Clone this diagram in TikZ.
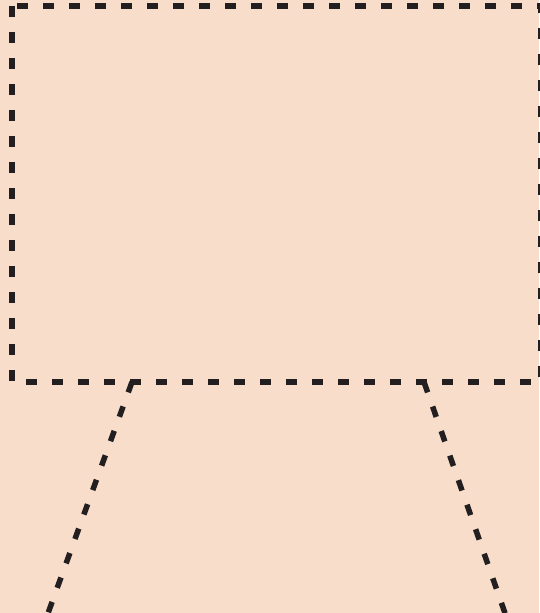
\documentclass[tikz,border=0pt]{standalone}
\usepackage{tikz}
\usetikzlibrary{calc}
\definecolor{paper}{HTML}{F7DDCA}
\definecolor{ink}{HTML}{231F20}

\begin{document}
\begin{tikzpicture}[
            x=1pt, y=-1pt,
            outline/.style={
                draw=ink, line width=5.5pt,
                dash pattern=on 11pt off 15pt,
            },
        ]
            % --- background, same size as the reference ---
            \fill[paper] (0,0) rectangle (539,613);
            \useasboundingbox (0,0) rectangle (539,613);

            % --- frame ---
            \coordinate (tl) at (12,6);
            \coordinate (br) at (541,382);
            \draw[outline] (tl) rectangle (br);

            % --- legs ---
            \coordinate (legL) at (132,382);
            \coordinate (footL) at (47,616);
            \coordinate (legR) at (424,382);
            \coordinate (footR) at (506,616);
            \draw[outline] (legL) -- (footL);
            \draw[outline] (legR) -- (footR);
        \end{tikzpicture}
\end{document}
